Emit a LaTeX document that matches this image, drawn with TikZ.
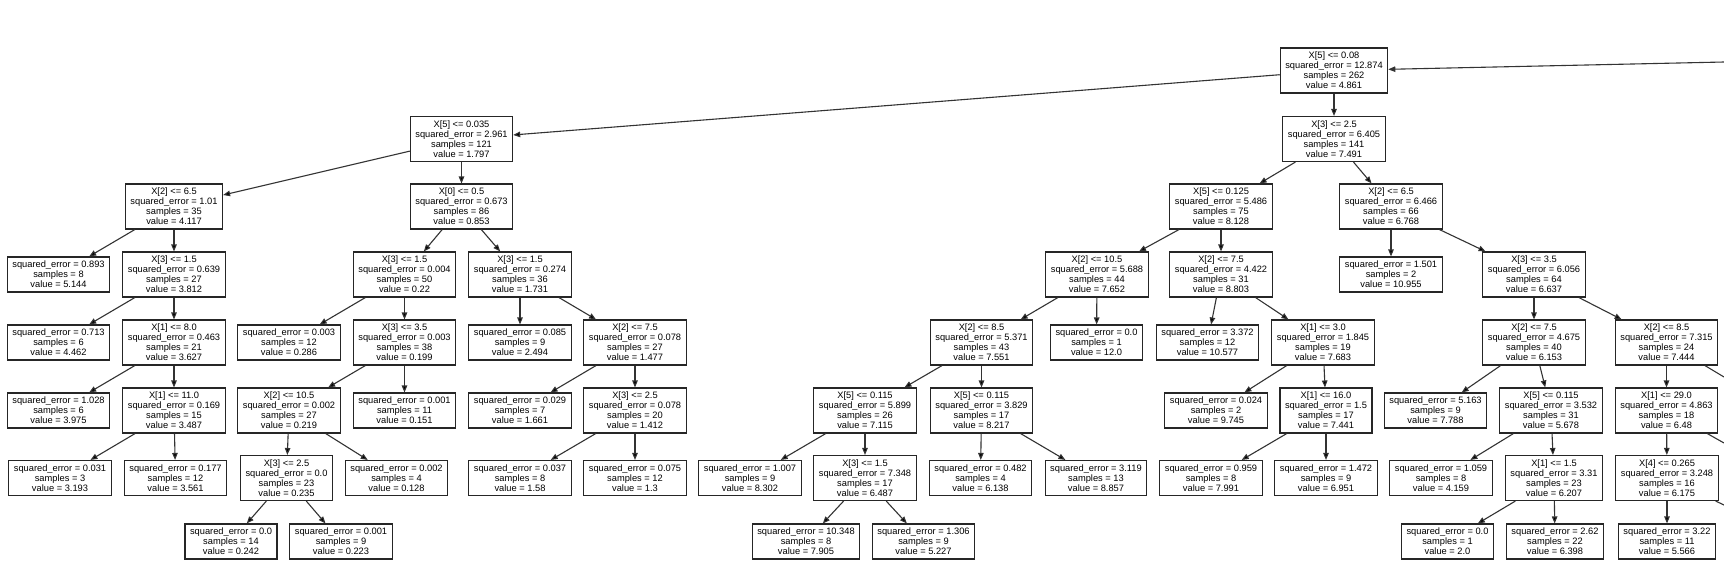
\documentclass[tikz,border=0pt]{standalone}
\usepackage{fontspec}
\setmainfont{Liberation Sans}
\usetikzlibrary{arrows.meta}

\begin{document}
\begin{tikzpicture}[x=1pt,y=-1pt,>={Triangle[length=7pt,width=5.5pt]},
  box/.style={draw=black!85,line width=1.1pt,fill=white,align=center,
    inner xsep=5pt,inner ysep=2pt,font=\fontsize{9.3}{10}\selectfont},
  split/.style={box,minimum height=45pt},
  leaf/.style={box,minimum height=35pt},
  link/.style={draw=black!80,line width=1.1pt}]
  \path[fill=white,use as bounding box] (0,0) rectangle (1724,574);

  % top of the visible part
  \node[split] (t) at (1334,70.5) {X[5] <= 0.08\\squared\_error = 12.874\\samples = 262\\value = 4.861};
  \coordinate (up) at (1724,62);

  % row 1
  \node[split] (l) at (461.5,139) {X[5] <= 0.035\\squared\_error = 2.961\\samples = 121\\value = 1.797};
  \node[split] (r) at (1334,139) {X[3] <= 2.5\\squared\_error = 6.405\\samples = 141\\value = 7.491};

  % row 2
  \node[split] (ll) at (174,206.5) {X[2] <= 6.5\\squared\_error = 1.01\\samples = 35\\value = 4.117};
  \node[split] (lr) at (461.5,206.5) {X[0] <= 0.5\\squared\_error = 0.673\\samples = 86\\value = 0.853};
  \node[split] (rl) at (1221,206.5) {X[5] <= 0.125\\squared\_error = 5.486\\samples = 75\\value = 8.128};
  \node[split] (rr) at (1391,206.5) {X[2] <= 6.5\\squared\_error = 6.466\\samples = 66\\value = 6.768};

  % row 3
  \node[leaf] (lll) at (58.5,274.5) {squared\_error = 0.893\\samples = 8\\value = 5.144};
  \node[split] (llr) at (174,274.5) {X[3] <= 1.5\\squared\_error = 0.639\\samples = 27\\value = 3.812};
  \node[split] (lrl) at (404.5,274.5) {X[3] <= 1.5\\squared\_error = 0.004\\samples = 50\\value = 0.22};
  \node[split] (lrr) at (520,274.5) {X[3] <= 1.5\\squared\_error = 0.274\\samples = 36\\value = 1.731};
  \node[split] (rll) at (1097,274.5) {X[2] <= 10.5\\squared\_error = 5.688\\samples = 44\\value = 7.652};
  \node[split] (rlr) at (1221,274.5) {X[2] <= 7.5\\squared\_error = 4.422\\samples = 31\\value = 8.803};
  \node[leaf] (rrl) at (1391,274.5) {squared\_error = 1.501\\samples = 2\\value = 10.955};
  \node[split] (rrr) at (1534,274.5) {X[3] <= 3.5\\squared\_error = 6.056\\samples = 64\\value = 6.637};

  % row 4
  \node[leaf] (llrl) at (58.5,342.5) {squared\_error = 0.713\\samples = 6\\value = 4.462};
  \node[split] (llrr) at (174,342.5) {X[1] <= 8.0\\squared\_error = 0.463\\samples = 21\\value = 3.627};
  \node[leaf] (lrll) at (289,342.5) {squared\_error = 0.003\\samples = 12\\value = 0.286};
  \node[split] (lrlr) at (404.5,342.5) {X[3] <= 3.5\\squared\_error = 0.003\\samples = 38\\value = 0.199};
  \node[leaf] (lrrl) at (520,342.5) {squared\_error = 0.085\\samples = 9\\value = 2.494};
  \node[split] (lrrr) at (635,342.5) {X[2] <= 7.5\\squared\_error = 0.078\\samples = 27\\value = 1.477};
  \node[split] (rlll) at (981.5,342.5) {X[2] <= 8.5\\squared\_error = 5.371\\samples = 43\\value = 7.551};
  \node[leaf] (rllr) at (1096.5,342.5) {squared\_error = 0.0\\samples = 1\\value = 12.0};
  \node[leaf] (rlrl) at (1207.5,342.5) {squared\_error = 3.372\\samples = 12\\value = 10.577};
  \node[split] (rlrr) at (1323,342.5) {X[1] <= 3.0\\squared\_error = 1.845\\samples = 19\\value = 7.683};
  \node[split] (rrrl) at (1534,342.5) {X[2] <= 7.5\\squared\_error = 4.675\\samples = 40\\value = 6.153};
  \node[split] (rrrr) at (1666.5,342.5) {X[2] <= 8.5\\squared\_error = 7.315\\samples = 24\\value = 7.444};
  \coordinate (rrrrr) at (1724,377);

  % row 5
  \node[leaf] (llrrl) at (58.5,410.5) {squared\_error = 1.028\\samples = 6\\value = 3.975};
  \node[split] (llrrr) at (174,410.5) {X[1] <= 11.0\\squared\_error = 0.169\\samples = 15\\value = 3.487};
  \node[split] (lrlrl) at (289,410.5) {X[2] <= 10.5\\squared\_error = 0.002\\samples = 27\\value = 0.219};
  \node[leaf] (lrlrr) at (404.5,410.5) {squared\_error = 0.001\\samples = 11\\value = 0.151};
  \node[leaf] (lrrrl) at (520,410.5) {squared\_error = 0.029\\samples = 7\\value = 1.661};
  \node[split] (lrrrr) at (635,410.5) {X[3] <= 2.5\\squared\_error = 0.078\\samples = 20\\value = 1.412};
  \node[split] (rllll) at (865,410.5) {X[5] <= 0.115\\squared\_error = 5.899\\samples = 26\\value = 7.115};
  \node[split] (rlllr) at (981.5,410.5) {X[5] <= 0.115\\squared\_error = 3.829\\samples = 17\\value = 8.217};
  \node[leaf] (rlrrl) at (1216,410.5) {squared\_error = 0.024\\samples = 2\\value = 9.745};
  \node[split] (rlrrr) at (1326,410.5) {X[1] <= 16.0\\squared\_error = 1.5\\samples = 17\\value = 7.441};
  \node[leaf] (rrrll) at (1435.5,410.5) {squared\_error = 5.163\\samples = 9\\value = 7.788};
  \node[split] (rrrlr) at (1551,410.5) {X[5] <= 0.115\\squared\_error = 3.532\\samples = 31\\value = 5.678};
  \node[split] (rrrrl) at (1666.5,410.5) {X[1] <= 29.0\\squared\_error = 4.863\\samples = 18\\value = 6.48};
  \coordinate (rrrrlr) at (1724,443);

  % row 6
  \node[leaf] (llrrrl) at (60,478) {squared\_error = 0.031\\samples = 3\\value = 3.193};
  \node[leaf] (llrrrr) at (175.5,478) {squared\_error = 0.177\\samples = 12\\value = 3.561};
  \node[split] (lrlrll) at (286.5,478) {X[3] <= 2.5\\squared\_error = 0.0\\samples = 23\\value = 0.235};
  \node[leaf] (lrlrlr) at (396.5,478) {squared\_error = 0.002\\samples = 4\\value = 0.128};
  \node[leaf] (lrrrrl) at (520,478) {squared\_error = 0.037\\samples = 8\\value = 1.58};
  \node[leaf] (lrrrrr) at (635,478) {squared\_error = 0.075\\samples = 12\\value = 1.3};
  \node[leaf] (rlllll) at (750,478) {squared\_error = 1.007\\samples = 9\\value = 8.302};
  \node[split] (rllllr) at (865,478) {X[3] <= 1.5\\squared\_error = 7.348\\samples = 17\\value = 6.487};
  \node[leaf] (rlllrl) at (980.5,478) {squared\_error = 0.482\\samples = 4\\value = 6.138};
  \node[leaf] (rlllrr) at (1096,478) {squared\_error = 3.119\\samples = 13\\value = 8.857};
  \node[leaf] (rlrrrl) at (1211,478) {squared\_error = 0.959\\samples = 8\\value = 7.991};
  \node[leaf] (rlrrrr) at (1326,478) {squared\_error = 1.472\\samples = 9\\value = 6.951};
  \node[leaf] (rrrlrl) at (1441,478) {squared\_error = 1.059\\samples = 8\\value = 4.159};
  \node[split] (rrrlrr) at (1554,478) {X[1] <= 1.5\\squared\_error = 3.31\\samples = 23\\value = 6.207};
  \node[split] (rrrrll) at (1667,478) {X[4] <= 0.265\\squared\_error = 3.248\\samples = 16\\value = 6.175};
  \coordinate (rrrrllr) at (1724,505);

  % row 7
  \node[leaf] (lrlrlll) at (231,541.5) {squared\_error = 0.0\\samples = 14\\value = 0.242};
  \node[leaf] (lrlrllr) at (341,541.5) {squared\_error = 0.001\\samples = 9\\value = 0.223};
  \node[leaf] (rllllrl) at (806,541.5) {squared\_error = 10.348\\samples = 8\\value = 7.905};
  \node[leaf] (rllllrr) at (923.5,541.5) {squared\_error = 1.306\\samples = 9\\value = 5.227};
  \node[leaf] (rrrlrrl) at (1447.5,541.5) {squared\_error = 0.0\\samples = 1\\value = 2.0};
  \node[leaf] (rrrlrrr) at (1555,541.5) {squared\_error = 2.62\\samples = 22\\value = 6.398};
  \node[leaf] (rrrrlll) at (1667,541.5) {squared\_error = 3.22\\samples = 11\\value = 5.566};

  % edges
  \draw[link,->] (up) -- (t);
  \draw[link,->] (t) edge (l) edge (r);
  \draw[link,->] (l) edge (ll) edge (lr);
  \draw[link,->] (r) edge (rl) edge (rr);
  \draw[link,->] (ll) edge (lll) edge (llr);
  \draw[link,->] (lr) edge (lrl) edge (lrr);
  \draw[link,->] (rl) edge (rll) edge (rlr);
  \draw[link,->] (rr) edge (rrl) edge (rrr);
  \draw[link,->] (llr) edge (llrl) edge (llrr);
  \draw[link,->] (lrl) edge (lrll) edge (lrlr);
  \draw[link,->] (lrr) edge (lrrl) edge (lrrr);
  \draw[link,->] (rll) edge (rlll) edge (rllr);
  \draw[link,->] (rlr) edge (rlrl) edge (rlrr);
  \draw[link,->] (rrr) edge (rrrl) edge (rrrr);
  \draw[link,->] (llrr) edge (llrrl) edge (llrrr);
  \draw[link,->] (lrlr) edge (lrlrl) edge (lrlrr);
  \draw[link,->] (lrrr) edge (lrrrl) edge (lrrrr);
  \draw[link,->] (rlll) edge (rllll) edge (rlllr);
  \draw[link,->] (rlrr) edge (rlrrl) edge (rlrrr);
  \draw[link,->] (rrrl) edge (rrrll) edge (rrrlr);
  \draw[link,->] (rrrr) edge (rrrrl);
  \draw[link] (rrrr) -- (rrrrr);
  \draw[link,->] (llrrr) edge (llrrrl) edge (llrrrr);
  \draw[link,->] (lrlrl) edge (lrlrll) edge (lrlrlr);
  \draw[link,->] (lrrrr) edge (lrrrrl) edge (lrrrrr);
  \draw[link,->] (rllll) edge (rlllll) edge (rllllr);
  \draw[link,->] (rlllr) edge (rlllrl) edge (rlllrr);
  \draw[link,->] (rlrrr) edge (rlrrrl) edge (rlrrrr);
  \draw[link,->] (rrrlr) edge (rrrlrl) edge (rrrlrr);
  \draw[link,->] (rrrrl) edge (rrrrll);
  \draw[link] (rrrrl) -- (rrrrlr);
  \draw[link,->] (lrlrll) edge (lrlrlll) edge (lrlrllr);
  \draw[link,->] (rllllr) edge (rllllrl) edge (rllllrr);
  \draw[link,->] (rrrlrr) edge (rrrlrrl) edge (rrrlrrr);
  \draw[link,->] (rrrrll) edge (rrrrlll);
  \draw[link] (rrrrll) -- (rrrrllr);
\end{tikzpicture}
\end{document}
